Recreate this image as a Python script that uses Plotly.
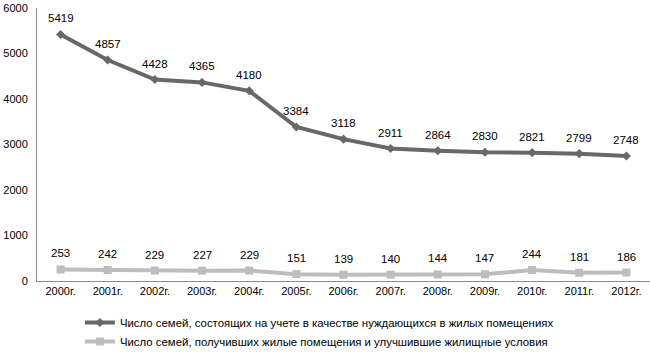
import plotly.graph_objects as go

years = ["2000г.", "2001г.", "2002г.", "2003г.", "2004г.", "2005г.", "2006г.",
         "2007г.", "2008г.", "2009г.", "2010г.", "2011г.", "2012г."]
registered = [5419, 4857, 4428, 4365, 4180, 3384, 3118, 2911, 2864, 2830, 2821, 2799, 2748]
housed = [253, 242, 229, 227, 229, 151, 139, 140, 144, 147, 244, 181, 186]
name_registered = "Число семей, состоящих на учете в качестве нуждающихся в жилых помещениях"
name_housed = "Число семей, получивших жилые помещения и улучшившие жилищные условия"

FONT = "Liberation Sans, Arial, sans-serif"
DARK = "#686868"
LIGHT = "#bdbdbd"

fig = go.Figure()
fig.add_trace(go.Scatter(
    x=years, y=registered, name=name_registered, mode="lines+markers",
    line=dict(color=DARK, width=4), marker=dict(symbol="diamond", size=7, color=DARK),
    cliponaxis=False))
fig.add_trace(go.Scatter(
    x=years, y=housed, name=name_housed, mode="lines+markers",
    line=dict(color=LIGHT, width=4), marker=dict(symbol="square", size=8, color=LIGHT),
    cliponaxis=False))

annotations = []
for series in (registered, housed):
    for yr, v in zip(years, series):
        annotations.append(dict(x=yr, y=v, text=str(v), showarrow=False,
                                yshift=16, font=dict(size=11.5, color="#000000", family=FONT)))

fig.update_layout(
    width=650, height=356,
    margin=dict(l=37, r=0, t=8, b=75),
    paper_bgcolor="white", plot_bgcolor="white",
    font=dict(family=FONT, size=11, color="#000000"),
    showlegend=True,
    annotations=annotations,
    legend=dict(orientation="v", x=0.07, xanchor="left", y=-0.1, yanchor="top",
                font=dict(size=11.4), itemwidth=30, tracegroupgap=0),
    xaxis=dict(type="category", range=[-0.5, 12.5], showgrid=False, showline=True,
               linecolor="#8c8c8c", linewidth=1, ticks="", tickfont=dict(size=11)),
    yaxis=dict(range=[0, 6000], dtick=1000, showgrid=False, showline=True,
               linecolor="#8c8c8c", linewidth=1, ticks="", zeroline=False,
               tickfont=dict(size=11), ticklabelstandoff=6),
)
fig.write_html("out.html", config={"displayModeBar": False},
               post_script="document.body.style.margin='0';")
